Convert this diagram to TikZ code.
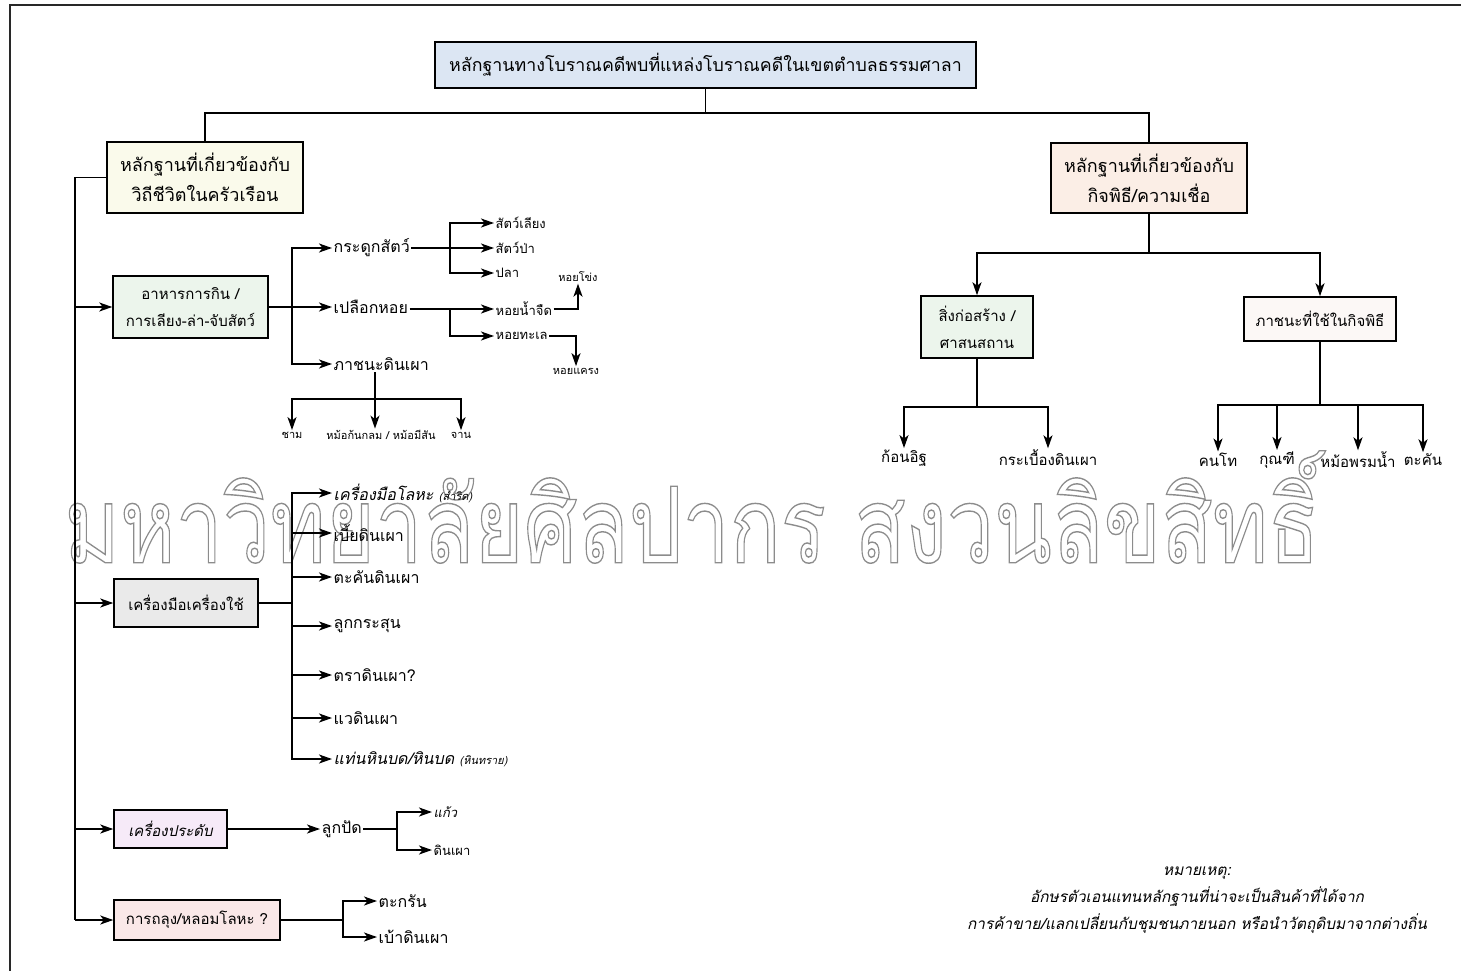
\documentclass[tikz,border=0pt]{standalone}
\usepackage{fontspec}
\usepackage{graphicx}
\setmainfont{Loma}[Script=Thai]
\usetikzlibrary{arrows.meta}
\definecolor{cTop}{RGB}{220,230,243}
\definecolor{cCream}{RGB}{250,250,235}
\definecolor{cPeach}{RGB}{251,238,230}
\definecolor{cGreen}{RGB}{236,245,236}
\definecolor{cGray}{RGB}{234,234,234}
\definecolor{cPurple}{RGB}{246,234,248}
\definecolor{cPink}{RGB}{250,232,232}
\definecolor{cWhitePink}{RGB}{252,248,246}
\definecolor{cWm}{RGB}{140,140,140}
\definecolor{cFrame}{RGB}{40,40,40}
\newcommand\fsTitle{\fontsize{17.8}{21}\selectfont}
\newcommand\fsBig{\fontsize{18}{30}\selectfont}
\newcommand\fsBox{\fontsize{15}{27}\selectfont}
\newcommand\fsMid{\fontsize{16}{19}\selectfont}
\newcommand\fsSm{\fontsize{13}{15}\selectfont}
\newcommand\fsTiny{\fontsize{11}{12}\selectfont}
\newcommand\fsNote{\fontsize{15.4}{27}\selectfont}
\begin{document}
\begin{tikzpicture}[x=1pt,y=-1pt,
  box/.style={draw=black, line width=1.5pt, inner sep=3pt, align=center},
  lbl/.style={inner sep=1.5pt, anchor=west},
  lblc/.style={inner sep=1.5pt},
  ln/.style={line width=1.7pt},
  arr/.style={ln, -{Stealth[length=13pt,width=9pt,inset=3.5pt]}}]
\useasboundingbox (0,0) rectangle (1461,971);
% frame
\draw[cFrame, line width=1.5pt] (10,980) -- (10,5) -- (1475,5);
% watermark
\node[inner sep=0pt] (wm) at (692,507) {\resizebox{1255pt}{112pt}{\color{cWm}\special{pdf:literal direct 1 Tr 0.8 w}\fontsize{60}{60}\selectfont มหาวิทยาลัยศิลปากร สงวนลิขสิทธิ์\special{pdf:literal direct 0 Tr}}};
% top
\node[box, fill=cTop, minimum width=541pt, minimum height=46pt, font=\fsTitle] (top) at (705.5,65) {หลักฐานทางโบราณคดีพบที่แหล่งโบราณคดีในเขตตำบลธรรมศาลา};
\node[box, fill=cCream, minimum width=196pt, minimum height=71pt, font=\fsBig] (L1) at (205,177.5) {หลักฐานที่เกี่ยวข้องกับ\\วิถีชีวิตในครัวเรือน};
\node[box, fill=cPeach, minimum width=196pt, minimum height=70pt, font=\fsBig] (R1) at (1149,178) {หลักฐานที่เกี่ยวข้องกับ\\กิจพิธี/ความเชื่อ};
\coordinate (tj) at (705.5,113);
\draw[ln] (top.south) -- (tj);
\draw[ln] (L1.north) |- (tj) -| (R1.north);
% left boxes
\node[box, fill=cGreen, minimum width=155pt, minimum height=62pt, font=\fsBox] (A1) at (190.5,307) {อาหารการกิน /\\การเลียง-ล่า-จับสัตว์};
\node[box, fill=cGray, minimum width=144pt, minimum height=48pt, font=\fsBox] (A2) at (186,603) {เครื่องมือเครื่องใช้};
\node[box, fill=cPurple, minimum width=113pt, minimum height=38pt, font=\fsBox\itshape] (A3) at (170.5,829) {เครื่องประดับ};
\node[box, fill=cPink, minimum width=166pt, minimum height=40pt, font=\fsBox] (A4) at (197,920) {การถลุง/หลอมโลหะ ?};
\coordinate (sp0) at (75,177.5);
\coordinate (sp1) at (75,920);
\draw[ln] (L1.west) -- (sp0) -- (sp1);
\foreach \b in {A1,A2,A3,A4} \draw[arr] (sp0 |- \b.west) -- (\b.west);
% A1 branches
\node[lbl, font=\fsMid] (b1) at (332,248) {กระดูกสัตว์};
\node[lbl, font=\fsMid] (b2) at (332,307) {เปลือกหอย};
\node[lbl, font=\fsMid] (b3) at (332,364) {ภาชนะดินเผา};
\coordinate (a1j) at (292,307);
\draw[arr] (A1.east) -- (b2.west);
\draw[arr] (a1j) |- (b1.west);
\draw[arr] (a1j) |- (b3.west);
\node[lbl, font=\fsSm] (c1) at (494,223) {สัตว์เลียง};
\node[lbl, font=\fsSm] (c2) at (494,248) {สัตว์ป่า};
\node[lbl, font=\fsSm] (c3) at (494,273) {ปลา};
\coordinate (b1j) at (450,248);
\draw[arr] (b1.east) -- (c2.west);
\draw[arr] (b1j) |- (c1.west);
\draw[arr] (b1j) |- (c3.west);
\node[lbl, font=\fsSm] (d1) at (494,309) {หอยน้ำจืด};
\node[lbl, font=\fsSm] (d2) at (494,336) {หอยทะเล};
\coordinate (b2j) at (450,309);
\draw[arr] (b2.east |- b2j) -- (d1.west);
\draw[arr] (b2j) |- (d2.west);
\node[lblc, font=\fsTiny] (e1) at (578,277) {หอยโข่ง};
\node[lblc, font=\fsTiny] (e2) at (576,371) {หอยแครง};
\draw[arr] (d1.east) -| (e1.south);
\draw[arr] (d2.east) -| (e2.north);
\coordinate (b3j) at (375,399);
\draw[ln] (b3j |- b3.south) -- (b3j);
\node[lblc, font=\fsTiny] (f1) at (292,435) {ชาม};
\node[lblc, font=\fsTiny] (f2) at (381,435) {หม้อก้นกลม / หม้อมีสัน};
\node[lblc, font=\fsTiny] (f3) at (461,435) {จาน};
\draw[arr] (b3j) -| (f1.north);
\draw[arr] (b3j) -| (f3.north);
\draw[arr] (b3j) -- (b3j |- f2.north);
% A2 branches
\coordinate (a2j) at (292,603);
\draw[ln] (A2.east) -- (a2j);
\node[lbl, font=\fsMid\itshape] (g1) at (332,493) {เครื่องมือโลหะ {\fsTiny(สำริด)}};
\node[lbl, font=\fsMid] (g2) at (332,533) {เบี้ยดินเผา};
\node[lbl, font=\fsMid] (g3) at (332,577) {ตะคันดินเผา};
\node[lbl, font=\fsMid] (g4) at (332,626) {ลูกกระสุน};
\node[lbl, font=\fsMid] (g5) at (332,675) {ตราดินเผา?};
\node[lbl, font=\fsMid] (g6) at (332,718) {แวดินเผา};
\node[lbl, font=\fsMid\itshape] (g7) at (332,759) {แท่นหินบด/หินบด {\fsTiny(หินทราย)}};
\foreach \g in {g1,g2,g3,g4,g5,g6,g7} \draw[arr] (a2j) |- (\g.west);
% A3 branches
\node[lbl, font=\fsMid] (h1) at (320,829) {ลูกปัด};
\draw[arr] (A3.east) -- (h1.west);
\coordinate (a3j) at (397,829);
\draw[ln] (h1.east) -- (a3j);
\node[lbl, font=\fsSm\itshape] (i1) at (432,812) {แก้ว};
\node[lbl, font=\fsSm] (i2) at (432,850) {ดินเผา};
\draw[arr] (a3j) |- (i1.west);
\draw[arr] (a3j) |- (i2.west);
% A4 branches
\coordinate (a4j) at (343,920);
\draw[ln] (A4.east) -- (a4j);
\node[lbl, font=\fsMid] (k1) at (377,901) {ตะกรัน};
\node[lbl, font=\fsMid] (k2) at (377,937) {เบ้าดินเผา};
\draw[arr] (a4j) |- (k1.west);
\draw[arr] (a4j) |- (k2.west);
% right side
\node[box, fill=cGreen, minimum width=112pt, minimum height=62pt, font=\fsBox] (S1) at (977,327) {สิ่งก่อสร้าง /\\ศาสนสถาน};
\node[box, fill=cWhitePink, minimum width=152pt, minimum height=44pt, font=\fsBox] (S2) at (1320,319) {ภาชนะที่ใช้ในกิจพิธี};
\coordinate (rj) at (1149,253);
\draw[ln] (R1.south) -- (rj);
\draw[arr] (rj) -| (S1.north);
\draw[arr] (rj) -| (S2.north);
\coordinate (s1j) at (977,407);
\draw[ln] (S1.south) -- (s1j);
\node[lblc, font=\fsBox] (m1) at (904,458) {ก้อนอิฐ};
\node[lblc, font=\fsBox] (m2) at (1048,458) {กระเบื้องดินเผา};
\draw[arr] (s1j) -| (m1.north);
\draw[arr] (s1j) -| (m2.north);
\coordinate (s2j) at (1320,405);
\draw[ln] (S2.south) -- (s2j);
\node[lblc, font=\fsBox] (n1) at (1218,460) {คนโท};
\node[lblc, font=\fsBox] (n2) at (1277,460) {กุณฑี};
\node[lblc, font=\fsBox] (n3) at (1358,460) {หม้อพรมน้ำ};
\node[lblc, font=\fsBox] (n4) at (1423,460) {ตะคัน};
\foreach \n in {n1,n2,n3,n4} \draw[arr] (s2j) -| (\n.north);
% note
\node[align=center, font=\fsNote\itshape] (note) at (1197,900) {หมายเหตุ:\\อักษรตัวเอนแทนหลักฐานที่น่าจะเป็นสินค้าที่ได้จาก\\การค้าขาย/แลกเปลี่ยนกับชุมชนภายนอก หรือนำวัตถุดิบมาจากต่างถิ่น};
\end{tikzpicture}
\end{document}
